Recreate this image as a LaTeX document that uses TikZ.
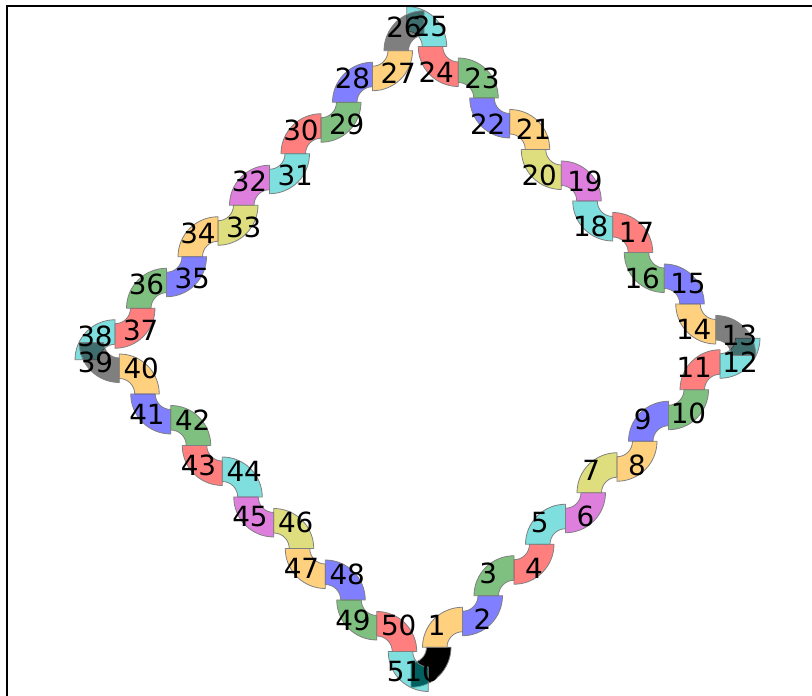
\documentclass[tikz,border=0pt]{standalone}
\usepackage{fontspec}
\setmainfont{DejaVu Sans}
\definecolor{cK}{RGB}{0,0,0}
\definecolor{cOr}{RGB}{255,165,0}
\definecolor{cBl}{RGB}{0,0,255}
\definecolor{cGr}{RGB}{0,128,0}
\definecolor{cRe}{RGB}{255,0,0}
\definecolor{cCy}{RGB}{0,191,191}
\definecolor{cMa}{RGB}{191,0,191}
\definecolor{cYe}{RGB}{191,191,0}
\tikzset{
  segshape/.style={draw=gray, line width=0.8pt},
  numlabel/.style={font=\fontsize{27.8}{30}\selectfont, inner sep=0pt, text=black},
  frameline/.style={line width=2pt, draw=black}
}
\begin{document}
\begin{tikzpicture}[x=1pt,y=1pt]
\useasboundingbox (0,0) rectangle (812,696);
\fill[white] (0,0) rectangle (812,696);
\def\R{25.75}\def\rin{15.5}\def\rout{40}\def\ca{25.75}\def\cb{0}
\coordinate (Z) at (417.5,347);
\foreach \s in {0,1,2,3}{
 \pgfmathtruncatemacro\rot{90*\s}
 \begin{scope}[rotate around={\rot:(Z)}]
  \xdef\px{411}\xdef\py{23}\xdef\hd{0}
  \foreach \k in {0,...,12}{
    \pgfmathtruncatemacro\i{13*\s+\k}
    \pgfmathtruncatemacro\t{ifthenelse(mod(\k,2)==0,1,-1)}
    \pgfmathtruncatemacro\ci{ifthenelse(\k==0,0,mod(\k-1,7)+1)}
    \edef\segc{\ifcase\ci cK\or cOr\or cBl\or cGr\or cRe\or cCy\or cMa\or cYe\fi}
    \pgfmathsetmacro\op{ifthenelse(\i==0,1,0.5)}
    \pgfmathsetmacro\cx{\px+\ca*cos(\hd+90*\t)-\cb*cos(\hd)}
    \pgfmathsetmacro\cy{\py+\ca*sin(\hd+90*\t)-\cb*sin(\hd)}
    \pgfmathsetmacro\aa{\hd-90*\t}
    \filldraw[segshape, fill=\segc, fill opacity=\op]
      ([shift={(\aa:\rout)}]\cx,\cy) arc[start angle=\aa, end angle=\hd, radius=\rout]
      -- ([shift={(\hd:\rin)}]\cx,\cy) arc[start angle=\hd, end angle=\aa, radius=\rin] -- cycle;
    \pgfmathsetmacro\lx{\px+20*cos(\hd)}
    \pgfmathsetmacro\ly{\py+20*sin(\hd)+2}
    \coordinate (P\i) at (\lx,\ly);
    \pgfmathsetmacro\nx{\px+\R*cos(\hd)+\R*cos(\hd+90*\t)}
    \pgfmathsetmacro\ny{\py+\R*sin(\hd)+\R*sin(\hd+90*\t)}
    \pgfmathsetmacro\nh{\hd+90*\t}
    \xdef\px{\nx}\xdef\py{\ny}\xdef\hd{\nh}
  }
 \end{scope}
}
\foreach \i in {0,...,51}{
  \node[numlabel] (L\i) at (P\i) {\i};
}
\draw[frameline] (7,-5) -- (7,690) -- (820,690);
\end{tikzpicture}
\end{document}
